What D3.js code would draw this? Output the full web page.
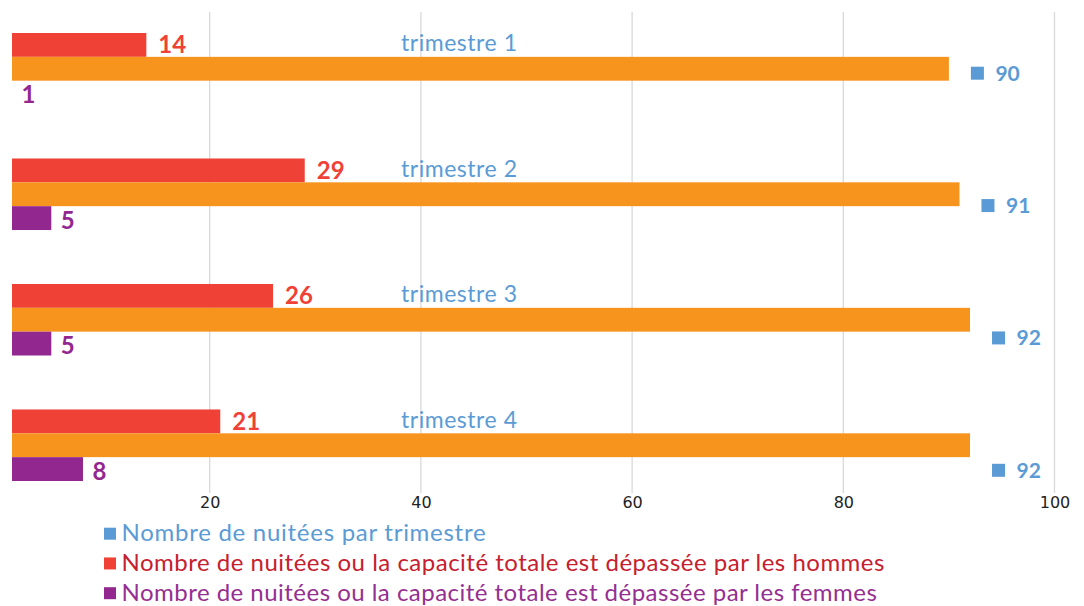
<!DOCTYPE html>
<html>
<head>
<meta charset="utf-8">
<script src="https://cdn.jsdelivr.net/npm/d3@7"></script>
<style>
  html, body { margin: 0; padding: 0; background: #ffffff; }
  svg { display: block; }
</style>
</head>
<body>
<div id="chart"></div>
<script>
// ---------- data ----------
const categories = ["trimestre 1", "trimestre 2", "trimestre 3", "trimestre 4"];
const nuiteesTrimestre = [90, 91, 92, 92];
const depasseHommes = [14, 29, 26, 21];
const depasseFemmes = [1, 5, 5, 8];
const xTickValues = [20, 40, 60, 80, 100];
const legendLabels = [
  "Nombre de nuitées par trimestre",
  "Nombre de nuitées ou la capacité totale est dépassée par les hommes",
  "Nombre de nuitées ou la capacité totale est dépassée par les femmes"
];

// ---------- layout / styles ----------
const W = 1084, H = 606;
const plotLeft = 12, plotTop = 12, plotBottom = 493;
const C = {
  red: "#EF4136", orange: "#F7941D", purple: "#92278F", blue: "#5B9BD5",
  legendRed: "#C6202F", legendPurple: "#952F91", grid: "#D9D9D9", tick: "#222222"
};
const labelFont = "Lato, 'Open Sans', sans-serif";

const svg = d3.select("#chart").append("svg")
  .attr("width", W).attr("height", H);

svg.append("defs").append("clipPath").attr("id", "plotClip")
  .append("rect").attr("x", plotLeft).attr("y", 0)
  .attr("width", W - plotLeft).attr("height", H);

// ---------- scales ----------
const x = d3.scaleLinear().domain([0, 100]).range([-1.5, 1054.5]);
const y = d3.scaleBand().domain(categories).range([33, 481]).paddingInner(0.43).paddingOuter(0);
const seriesKeys = ["hommes", "total", "femmes"];
const ySub = d3.scaleBand().domain(seriesKeys).range([0, y.bandwidth()]);
const yBlue = d3.scalePoint().domain(categories).range([73.2, 470.3]);

// ---------- gridlines ----------
svg.append("g").selectAll("line").data(xTickValues).join("line")
  .attr("x1", d => x(d)).attr("x2", d => x(d))
  .attr("y1", plotTop).attr("y2", plotBottom)
  .attr("stroke", C.grid).attr("stroke-width", 1.3);

// ---------- x axis labels ----------
const xAxis = svg.append("g")
  .attr("transform", `translate(0,${plotBottom})`)
  .call(d3.axisBottom(x).tickValues(xTickValues).tickSize(0).tickPadding(4).tickFormat(d3.format("d")));
xAxis.select(".domain").remove();
xAxis.selectAll("text")
  .attr("font-family", "'DejaVu Sans', sans-serif")
  .attr("font-size", 16)
  .attr("fill", C.tick);

// ---------- bars ----------
const series = [
  { key: "hommes", values: depasseHommes, color: C.red },
  { key: "total", values: nuiteesTrimestre, color: C.orange },
  { key: "femmes", values: depasseFemmes, color: C.purple }
];

const barsG = svg.append("g").attr("clip-path", "url(#plotClip)");
series.forEach(s => {
  barsG.append("g").selectAll("rect")
    .data(categories.map((c, i) => ({ c, v: s.values[i] })))
    .join("rect")
    .attr("x", x(0))
    .attr("y", d => y(d.c) + ySub(s.key))
    .attr("width", d => Math.max(0, x(d.v) - x(0)))
    .attr("height", ySub.bandwidth())
    .attr("fill", s.color);
});

// ---------- data labels: hommes (red) ----------
svg.append("g").selectAll("text")
  .data(categories.map((c, i) => ({ c, v: depasseHommes[i] })))
  .join("text")
  .attr("x", d => x(d.v) + 12)
  .attr("y", d => y(d.c) + ySub("hommes") + ySub.bandwidth() / 2 + 8.5)
  .attr("font-family", labelFont).attr("font-weight", 700).attr("font-size", 24)
  .attr("fill", C.red)
  .text(d => d.v);

// ---------- data labels: femmes (purple) ----------
svg.append("g").selectAll("text")
  .data(categories.map((c, i) => ({ c, v: depasseFemmes[i] })))
  .join("text")
  .attr("x", d => Math.max(x(d.v), plotLeft) + 9.5)
  .attr("y", d => y(d.c) + ySub("femmes") + ySub.bandwidth() / 2 + 10.5)
  .attr("font-family", labelFont).attr("font-weight", 700).attr("font-size", 24)
  .attr("fill", C.purple)
  .text(d => d.v);

// ---------- nuitées par trimestre (blue markers + labels) ----------
const blueG = svg.append("g");
const blueData = categories.map((c, i) => ({ c, v: nuiteesTrimestre[i] }));
blueG.selectAll("rect").data(blueData).join("rect")
  .attr("x", d => x(d.v) + 22)
  .attr("y", d => yBlue(d.c) - 6.5)
  .attr("width", 13).attr("height", 13)
  .attr("fill", C.blue);
blueG.selectAll("text").data(blueData).join("text")
  .attr("x", d => x(d.v) + 46.5)
  .attr("y", d => yBlue(d.c) + 7.5)
  .attr("font-family", labelFont).attr("font-weight", 700).attr("font-size", 21)
  .attr("fill", C.blue)
  .text(d => d.v);

// ---------- category labels ----------
const catLabels = svg.append("g").selectAll("text").data(categories).join("text")
  .attr("x", 401)
  .attr("y", d => y(d) + ySub("hommes") + ySub.bandwidth() / 2 + 6.5)
  .attr("font-family", labelFont).attr("font-size", 23)
  .attr("fill", C.blue)
  .text(d => d);
catLabels.each(function () {
  const n = this.getNumberOfChars();
  const w = this.getComputedTextLength();
  const target = 116;
  this.setAttribute("letter-spacing", ((target - w) / (n - 1)).toFixed(2));
});

// ---------- legend ----------
const legendColors = [C.blue, C.red, C.purple];
const legendTextColors = [C.blue, C.legendRed, C.legendPurple];
const legendTargets = [364, 763, 755];
const legendY = d3.scalePoint().domain(legendLabels).range([541, 600.5]);
const lg = svg.append("g");
lg.selectAll("rect").data(legendLabels).join("rect")
  .attr("x", 104).attr("y", d => legendY(d) - 13.3)
  .attr("width", 12).attr("height", 12)
  .attr("fill", (d, i) => legendColors[i]);
lg.selectAll("text").data(legendLabels).join("text")
  .attr("x", 121.5).attr("y", d => legendY(d))
  .attr("font-family", labelFont).attr("font-size", 24)
  .attr("fill", (d, i) => legendTextColors[i])
  .text(d => d)
  .each(function (d, i) {
    const n = this.getNumberOfChars();
    const w = this.getComputedTextLength();
    this.setAttribute("letter-spacing", ((legendTargets[i] - w) / (n - 1)).toFixed(2));
  });
</script>
</body>
</html>
